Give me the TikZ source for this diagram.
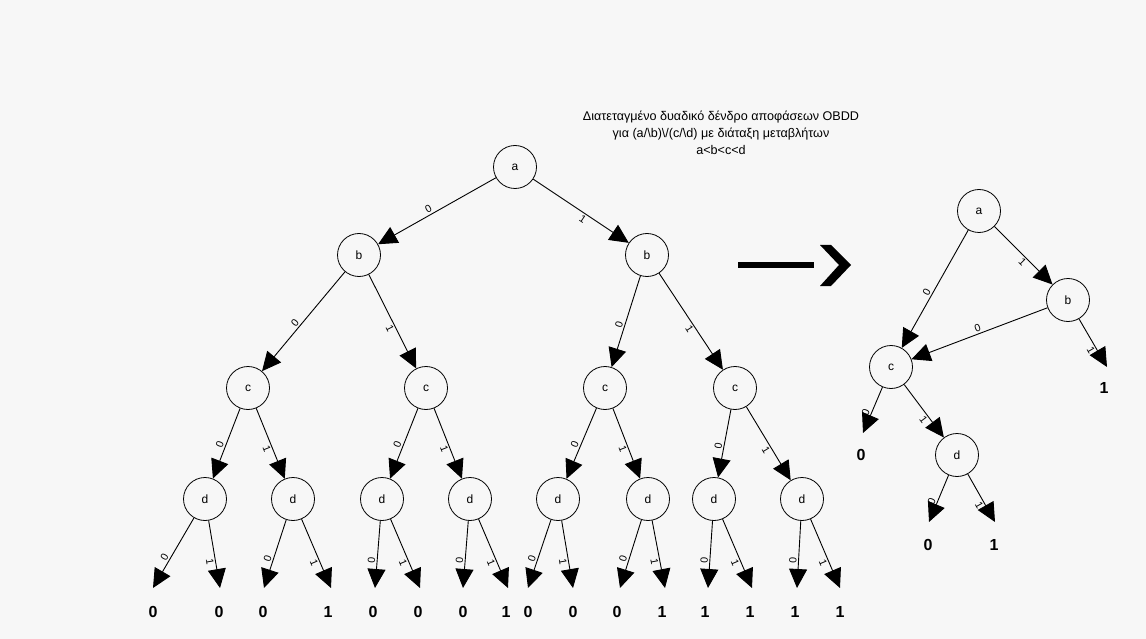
\documentclass[tikz,border=0pt]{standalone}
\usepackage{fontspec}
\setmainfont{Liberation Sans}
\usetikzlibrary{arrows.meta}
\begin{document}
\begin{tikzpicture}[x=1pt,y=-1pt,
  vnode/.style={circle, draw, line width=0.8pt, minimum size=43pt, inner sep=0pt, font=\fontsize{12}{12}\selectfont},
  edge/.style={line width=0.9pt, -{Triangle[length=19pt,width=18pt]}},
  elab/.style={font=\fontsize{10.5}{10.5}\selectfont, inner sep=1.5pt, sloped},
  zl/.style={elab, above, pos=0.55},
  ol/.style={elab, below, pos=0.55},
  leaf/.style={font=\fontsize{16}{16}\selectfont\bfseries, inner sep=0pt},
]
\fill[black!3] (0,0) rectangle (1146,639);
\useasboundingbox (0,0) rectangle (1146,639);

% title
\node[align=center, font=\fontsize{12.6}{17}\selectfont] (title) at (721,133)
  {Διατεταγμένο δυαδικό δένδρο αποφάσεων OBDD\\
   για (a/\textbackslash b)\textbackslash/(c/\textbackslash d) με διάταξη μεταβλήτων\\
   a<b<c<d};

% full decision tree
\node[vnode] (a)  at (515,167) {a};
\node[vnode] (bL) at (359,255) {b};
\node[vnode] (bR) at (647,255) {b};
\node[vnode] (c1) at (248,388) {c};
\node[vnode] (c2) at (426,388) {c};
\node[vnode] (c3) at (605,388) {c};
\node[vnode] (c4) at (735,388) {c};
\foreach \i/\x in {1/205,2/293,3/382,4/470,5/558,6/648,7/714,8/802}
  \node[vnode] (d\i) at (\x,499) {d};

\draw[edge] (a) -- node[zl]{0} (bL);
\draw[edge] (a) -- node[ol]{1} (bR);
\draw[edge] (bL) -- node[zl]{0} (c1);
\draw[edge] (bL) -- node[ol]{1} (c2);
\draw[edge] (bR) -- node[zl]{0} (c3);
\draw[edge] (bR) -- node[ol]{1} (c4);
\draw[edge] (c1) -- node[zl]{0} (d1);
\draw[edge] (c1) -- node[ol]{1} (d2);
\draw[edge] (c2) -- node[zl]{0} (d3);
\draw[edge] (c2) -- node[ol]{1} (d4);
\draw[edge] (c3) -- node[zl]{0} (d5);
\draw[edge] (c3) -- node[ol]{1} (d6);
\draw[edge] (c4) -- node[zl]{0} (d7);
\draw[edge] (c4) -- node[ol]{1} (d8);

% terminal ends of the tree
\foreach \i/\l/\r in {1/153/220,2/264/331,3/375/420,4/463/508,5/528/573,6/620/665,7/708/752,8/797/840}{
  \coordinate (t\i l) at (\l,588);
  \coordinate (t\i r) at (\r,588);
  \draw[edge] (d\i) -- node[zl, pos=0.6]{0} (t\i l);
  \draw[edge] (d\i) -- node[ol, pos=0.6]{1} (t\i r);
}
\foreach \x/\v [count=\k] in {153/0,219/0,263/0,328/1,373/0,418/0,463/0,506/1,528/0,573/0,617/0,662/1,705/1,750/1,795/1,840/1}
  \node[leaf] (v\k) at (\x,612) {\v};

% transformation arrow
\draw[line width=6pt] (738,265) -- (814,265);
\fill (820,245) -- (831,245) -- (851,265) -- (831,286) -- (820,286) -- (839,265) -- cycle;

% reduced diagram
\node[vnode] (ra) at (979,211) {a};
\node[vnode] (rb) at (1068,300) {b};
\node[vnode] (rc) at (891,367) {c};
\node[vnode] (rd) at (957,455) {d};
\coordinate (rb1) at (1107,367);
\coordinate (rc0) at (863,433);
\coordinate (rd0) at (929,522);
\coordinate (rd1) at (995,522);

\draw[edge] (ra) -- node[zl]{0} (rc);
\draw[edge] (ra) -- node[ol]{1} (rb);
\draw[edge] (rb) -- node[elab, above, pos=0.5]{0} (rc);
\draw[edge] (rb) -- node[ol, pos=0.6]{1} (rb1);
\draw[edge] (rc) -- node[zl, pos=0.6]{0} (rc0);
\draw[edge] (rc) -- node[ol, pos=0.6]{1} (rd);
\draw[edge] (rd) -- node[zl, pos=0.6]{0} (rd0);
\draw[edge] (rd) -- node[ol, pos=0.6]{1} (rd1);

\node[leaf] (rv1) at (1104,388) {1};
\node[leaf] (rv2) at (861,455) {0};
\node[leaf] (rv3) at (928,545) {0};
\node[leaf] (rv4) at (994,545) {1};
\end{tikzpicture}
\end{document}
